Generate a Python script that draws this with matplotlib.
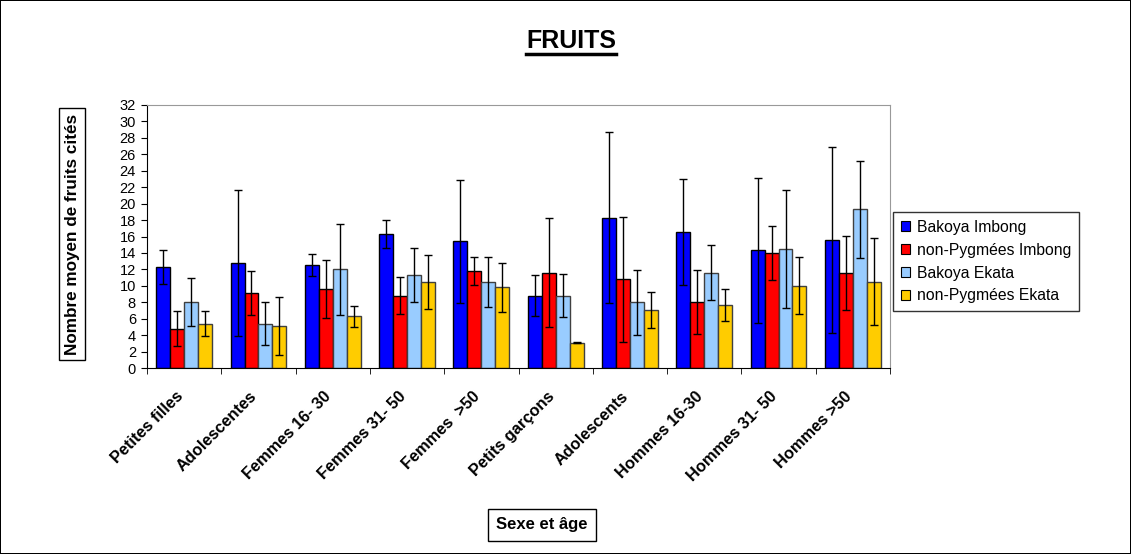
import numpy as np
import matplotlib
matplotlib.use("Agg")
import matplotlib.pyplot as plt
import matplotlib.transforms as mtransforms
from matplotlib.patches import Patch
from matplotlib.lines import Line2D

plt.rcParams['font.family'] = ['Liberation Sans', 'DejaVu Sans']

categories = ["Petites filles", "Adolescentes", "Femmes 16- 30", "Femmes 31- 50",
              "Femmes  >50", "Petits garçons", "Adolescents", "Hommes 16-30",
              "Hommes 31- 50", "Hommes >50"]
series = ["Bakoya Imbong", "non-Pygmées Imbong", "Bakoya Ekata", "non-Pygmées Ekata"]
colors = ["#0000FF", "#FF0000", "#99CCFF", "#FFCC00"]

bakoya_imbong = [12.3, 12.8, 12.5, 16.3, 15.4, 8.8, 18.3, 16.6, 14.3, 15.6]
nonpyg_imbong = [4.8, 9.1, 9.6, 8.8, 11.8, 11.6, 10.8, 8.0, 14.0, 11.6]
bakoya_ekata = [8.0, 5.4, 12.0, 11.3, 10.5, 8.8, 8.0, 11.6, 14.5, 19.3]
nonpyg_ekata = [5.4, 5.1, 6.3, 10.5, 9.8, 3.1, 7.1, 7.7, 10.0, 10.5]

err_bakoya_imbong = [2.1, 8.9, 1.35, 1.7, 7.45, 2.5, 10.45, 6.45, 8.8, 11.3]
err_nonpyg_imbong = [2.1, 2.7, 3.55, 2.25, 1.7, 6.6, 7.6, 3.9, 3.25, 4.5]
err_bakoya_ekata = [2.95, 2.6, 5.55, 3.3, 3.05, 2.65, 3.95, 3.35, 7.2, 5.9]
err_nonpyg_ekata = [1.5, 3.5, 1.3, 3.3, 3.0, 0.05, 2.2, 1.95, 3.45, 5.3]

values = [bakoya_imbong, nonpyg_imbong, bakoya_ekata, nonpyg_ekata]
errors = [err_bakoya_imbong, err_nonpyg_imbong, err_bakoya_ekata, err_nonpyg_ekata]

fig = plt.figure(figsize=(11.31, 5.54), dpi=100)
fig.patch.set_edgecolor("black")
fig.patch.set_linewidth(1.2)
ax = fig.add_axes([147/1131, 1-368/554, (890-147)/1131, (368-105)/554])

x = np.arange(len(categories))
w = 0.1875
for i in range(4):
    ec = "black" if i < 2 else "#404040"
    ax.bar(x + (i - 1.5) * w, values[i], w, color=colors[i], edgecolor=ec,
           linewidth=1, yerr=errors[i], capsize=3,
           error_kw=dict(elinewidth=1, ecolor="black", capthick=1), zorder=2)

ax.set_xlim(-0.5, len(categories) - 0.5)
ax.set_ylim(0, 32)
ax.set_yticks(np.arange(0, 33, 2))
ax.tick_params(axis='y', direction='out', length=4, labelsize=10.5, pad=4)
ax.set_xticks(x)
ax.set_xticklabels(categories, rotation=45, ha='right', rotation_mode='anchor',
                   fontweight='bold', fontsize=11.8)
ax.set_xticks(np.arange(-0.5, len(categories)), minor=True)
ax.tick_params(axis='x', which='major', length=0, pad=15)
ax.tick_params(axis='x', which='minor', direction='out', length=4)
shift = mtransforms.ScaledTranslation(-9/100, 0, fig.dpi_scale_trans)
for lab in ax.get_xticklabels():
    lab.set_transform(lab.get_transform() + shift)
for s in ['top', 'right']:
    ax.spines[s].set_color('#999999')
for s in ['left', 'bottom']:
    ax.spines[s].set_color('black')

fig.text(72/1131, 1-234/554, "Nombre moyen de fruits cités", rotation=90,
         ha='center', va='center', fontsize=12.3, fontweight='bold',
         bbox=dict(boxstyle='square,pad=0.3', fc='white', ec='black', lw=1))
fig.text(542/1131, 1-525/554, "Sexe et âge", ha='center', va='center',
         fontsize=12, fontweight='bold',
         bbox=dict(boxstyle='square,pad=0.5', fc='white', ec='black', lw=1))

title = fig.text(571/1131, 1-41/554, "FRUITS", ha='center', va='center',
                 fontsize=18, fontweight='bold')
fig.canvas.draw()
bb = title.get_window_extent(fig.canvas.get_renderer())
uy = 554 - 53.5
fig.add_artist(Line2D([bb.x0 / 1131, bb.x1 / 1131], [uy / 554, uy / 554],
                      transform=fig.transFigure, color='black', lw=2.5))

handles = [Patch(facecolor=c, edgecolor='black', lw=0.8) for c in colors]
leg = fig.legend(handles, series, loc='upper left',
                 bbox_to_anchor=(893/1131, 1-212/554), fontsize=11.3,
                 frameon=True, fancybox=False, edgecolor='black',
                 handlelength=0.6, handleheight=0.6, handletextpad=0.4,
                 borderpad=0.5, labelspacing=0.5, borderaxespad=0)
leg.get_frame().set_linewidth(1)

fig.savefig("out.png", dpi=100)
